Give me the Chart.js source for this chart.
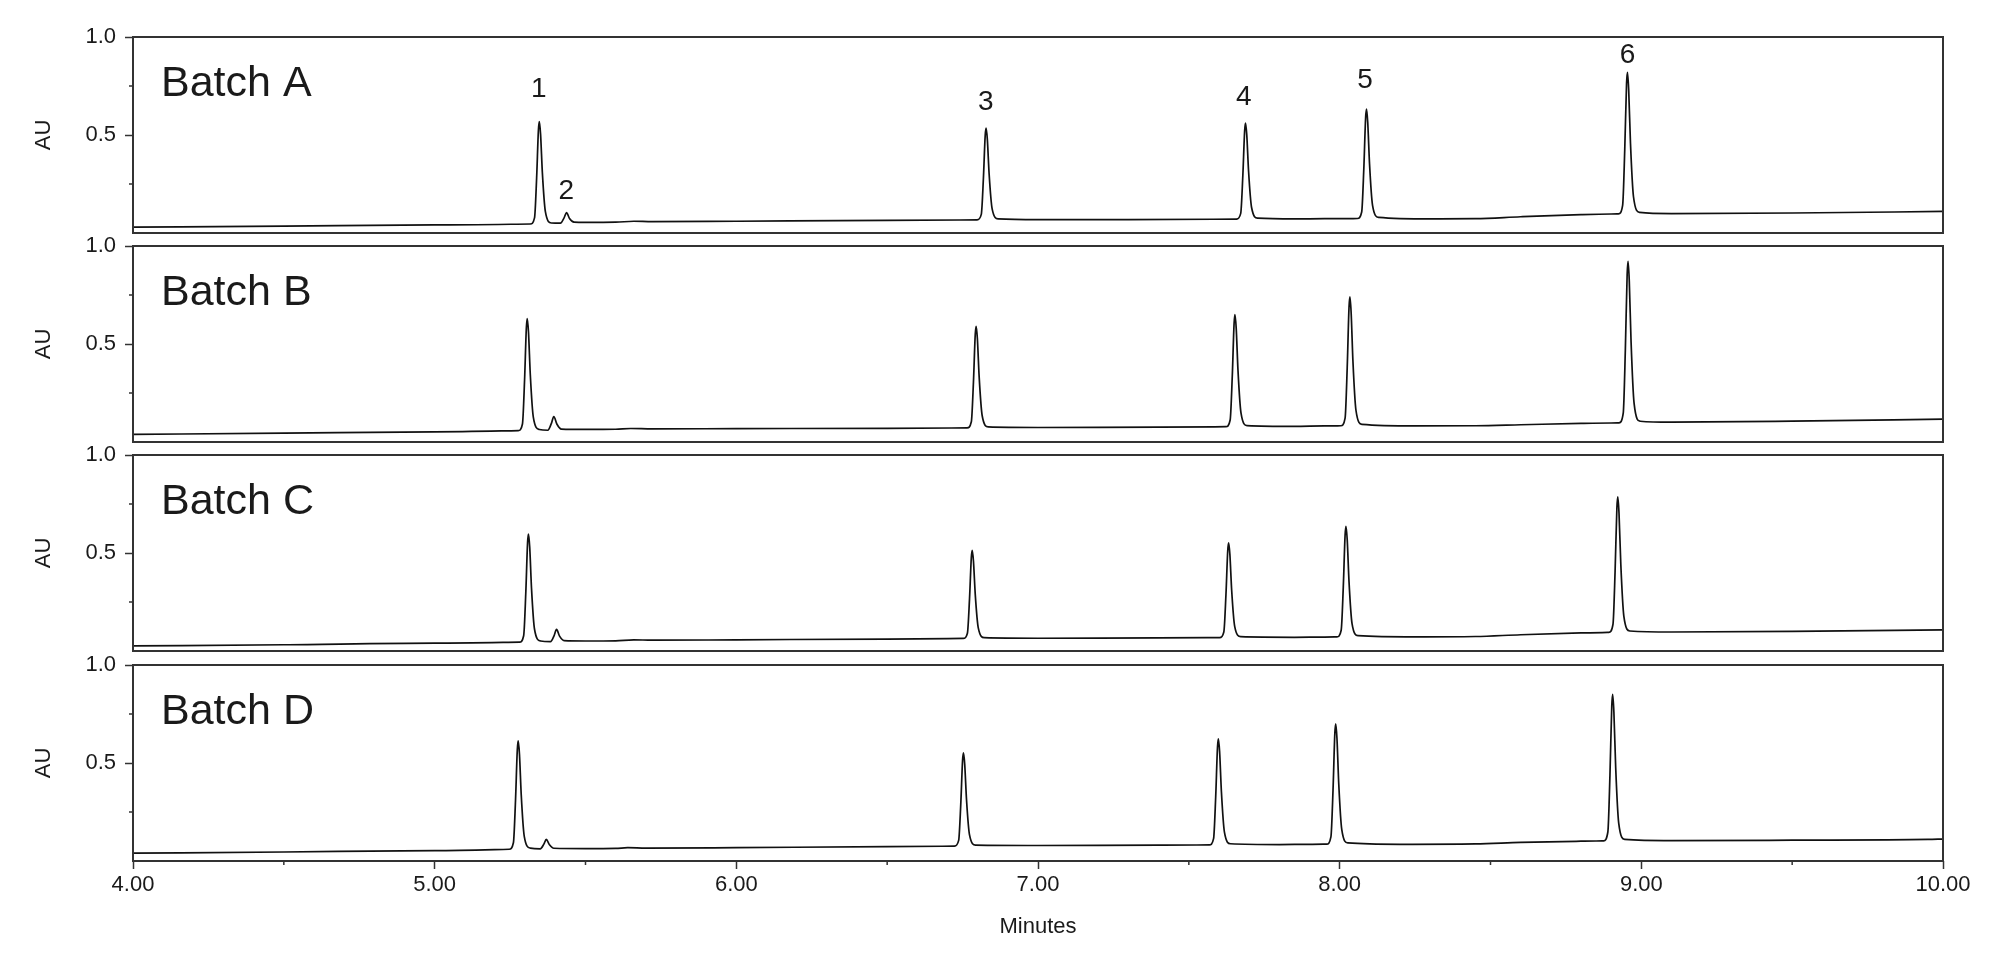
<!DOCTYPE html>
<html>
<head>
<meta charset="utf-8">
<title>Batch chromatograms</title>
<script src="https://cdn.jsdelivr.net/npm/chart.js@4.4.1/dist/chart.umd.min.js"></script>
<style>
  html, body { margin: 0; padding: 0; background: #fff; }
  #wrap { position: relative; width: 2000px; height: 973px; }
  #wrap canvas { position: absolute; left: 0; }
</style>
</head>
<body>
<div id="wrap">
  <canvas id="panelA" width="2000" height="244" style="top:13px"></canvas>
  <canvas id="panelB" width="2000" height="244" style="top:222px"></canvas>
  <canvas id="panelC" width="2000" height="244" style="top:431px"></canvas>
  <canvas id="panelD" width="2000" height="332" style="top:641px"></canvas>
</div>
<script>
// traces: [minutes, AU]
const batchNames = ["Batch A", "Batch B", "Batch C", "Batch D"];

const batchA = [
  [4.00, 0.030], [4.50, 0.035], [5.00, 0.041],
  [5.317, 0.046], [5.331, 0.077], [5.338, 0.281], [5.344, 0.527], [5.347, 0.569],
  [5.351, 0.506], [5.357, 0.308], [5.367, 0.109], [5.387, 0.051],
  [5.417, 0.050], [5.429, 0.077], [5.437, 0.104], [5.447, 0.074], [5.462, 0.055],
  [5.50, 0.054], [5.60, 0.055], [5.66, 0.060], [5.72, 0.058], [6.00, 0.060], [6.50, 0.064],
  [6.798, 0.067], [6.812, 0.095], [6.819, 0.278], [6.825, 0.498], [6.828, 0.535],
  [6.832, 0.479], [6.838, 0.301], [6.848, 0.123], [6.868, 0.072],
  [7.00, 0.068], [7.30, 0.068],
  [7.658, 0.071], [7.672, 0.100], [7.679, 0.292], [7.685, 0.522], [7.688, 0.561],
  [7.692, 0.502], [7.698, 0.316], [7.708, 0.130], [7.728, 0.076],
  [7.85, 0.072], [7.95, 0.073],
  [8.059, 0.074], [8.073, 0.107], [8.080, 0.325], [8.086, 0.587], [8.089, 0.632],
  [8.093, 0.565], [8.099, 0.353], [8.109, 0.141], [8.129, 0.080],
  [8.30, 0.072], [8.45, 0.073], [8.60, 0.083], [8.80, 0.094], [8.90, 0.097],
  [8.924, 0.098], [8.938, 0.141], [8.945, 0.423], [8.951, 0.762], [8.954, 0.820],
  [8.958, 0.733], [8.964, 0.459], [8.974, 0.185], [8.994, 0.105],
  [9.10, 0.099], [9.50, 0.102], [10.00, 0.110]
];

const batchB = [
  [4.00, 0.039], [4.50, 0.045], [5.00, 0.052],
  [5.277, 0.058], [5.291, 0.092], [5.298, 0.315], [5.304, 0.584], [5.307, 0.630],
  [5.311, 0.561], [5.317, 0.344], [5.327, 0.127], [5.347, 0.064],
  [5.375, 0.060], [5.387, 0.095], [5.395, 0.130], [5.405, 0.092], [5.420, 0.066],
  [5.50, 0.064], [5.60, 0.065], [5.65, 0.069], [5.72, 0.067], [6.00, 0.068], [6.50, 0.070],
  [6.765, 0.072], [6.779, 0.103], [6.786, 0.305], [6.792, 0.549], [6.795, 0.590],
  [6.799, 0.528], [6.805, 0.331], [6.815, 0.134], [6.835, 0.077],
  [7.00, 0.074], [7.40, 0.076],
  [7.623, 0.078], [7.637, 0.112], [7.644, 0.335], [7.650, 0.604], [7.653, 0.650],
  [7.657, 0.581], [7.663, 0.364], [7.673, 0.147], [7.693, 0.084],
  [7.85, 0.080], [7.95, 0.082],
  [8.004, 0.083], [8.018, 0.122], [8.025, 0.379], [8.031, 0.687], [8.034, 0.740],
  [8.038, 0.661], [8.044, 0.412], [8.054, 0.162], [8.074, 0.090],
  [8.25, 0.082], [8.45, 0.083], [8.60, 0.088], [8.80, 0.095], [8.90, 0.097],
  [8.926, 0.098], [8.940, 0.147], [8.947, 0.469], [8.953, 0.856], [8.956, 0.922],
  [8.960, 0.823], [8.966, 0.510], [8.976, 0.197], [8.996, 0.106],
  [9.10, 0.101], [9.50, 0.106], [10.00, 0.117]
];

const batchC = [
  [4.00, 0.026], [4.50, 0.032], [5.00, 0.040],
  [5.281, 0.045], [5.295, 0.078], [5.302, 0.293], [5.308, 0.553], [5.311, 0.597],
  [5.315, 0.531], [5.321, 0.321], [5.331, 0.111], [5.351, 0.051],
  [5.384, 0.048], [5.396, 0.079], [5.404, 0.110], [5.414, 0.076], [5.429, 0.053],
  [5.50, 0.051], [5.60, 0.052], [5.66, 0.057], [5.72, 0.055], [6.00, 0.057], [6.50, 0.061],
  [6.752, 0.064], [6.766, 0.091], [6.773, 0.266], [6.779, 0.477], [6.782, 0.513],
  [6.786, 0.459], [6.792, 0.289], [6.802, 0.118], [6.822, 0.068],
  [7.00, 0.065], [7.40, 0.067],
  [7.602, 0.068], [7.616, 0.097], [7.623, 0.286], [7.629, 0.513], [7.632, 0.552],
  [7.636, 0.494], [7.642, 0.310], [7.652, 0.126], [7.672, 0.073],
  [7.85, 0.070], [7.95, 0.071],
  [7.991, 0.072], [8.005, 0.106], [8.012, 0.326], [8.018, 0.591], [8.021, 0.636],
  [8.025, 0.568], [8.031, 0.354], [8.041, 0.140], [8.061, 0.078],
  [8.25, 0.072], [8.45, 0.074], [8.60, 0.083], [8.80, 0.092], [8.87, 0.094],
  [8.892, 0.095], [8.906, 0.136], [8.913, 0.406], [8.919, 0.731], [8.922, 0.786],
  [8.926, 0.703], [8.932, 0.441], [8.942, 0.178], [8.962, 0.102],
  [9.10, 0.097], [9.50, 0.100], [10.00, 0.108]
];

const batchD = [
  [4.00, 0.040], [4.50, 0.046], [5.00, 0.053],
  [5.247, 0.060], [5.261, 0.093], [5.268, 0.309], [5.274, 0.569], [5.277, 0.613],
  [5.281, 0.547], [5.287, 0.337], [5.297, 0.126], [5.317, 0.066],
  [5.350, 0.062], [5.362, 0.086], [5.370, 0.110], [5.380, 0.084], [5.395, 0.065],
  [5.50, 0.063], [5.60, 0.064], [5.64, 0.068], [5.70, 0.066], [6.00, 0.068], [6.50, 0.073],
  [6.723, 0.076], [6.737, 0.105], [6.744, 0.290], [6.750, 0.514], [6.753, 0.552],
  [6.757, 0.495], [6.763, 0.314], [6.773, 0.133], [6.793, 0.081],
  [7.00, 0.079], [7.40, 0.081],
  [7.568, 0.082], [7.582, 0.114], [7.589, 0.325], [7.595, 0.580], [7.598, 0.623],
  [7.602, 0.558], [7.608, 0.353], [7.618, 0.147], [7.638, 0.088],
  [7.80, 0.084], [7.90, 0.085],
  [7.957, 0.086], [7.971, 0.123], [7.978, 0.362], [7.984, 0.651], [7.987, 0.700],
  [7.991, 0.626], [7.997, 0.393], [8.007, 0.160], [8.027, 0.092],
  [8.20, 0.085], [8.45, 0.087], [8.60, 0.095], [8.80, 0.101], [8.85, 0.102],
  [8.875, 0.103], [8.889, 0.148], [8.896, 0.439], [8.902, 0.790], [8.905, 0.850],
  [8.909, 0.760], [8.915, 0.477], [8.925, 0.193], [8.945, 0.110],
  [9.10, 0.104], [9.50, 0.106], [9.95, 0.110], [10.00, 0.112]
];

// peak numbers written above the Batch A trace
const peakNumbers = ["1", "2", "3", "4", "5", "6"];
const peakNumberMinutes = [5.345, 5.436, 6.827, 7.682, 8.084, 8.954];
const peakNumberAU = [0.732, 0.212, 0.665, 0.691, 0.781, 0.908];

const yMajorTicks = [0.5, 1.0];
const yMinorTicks = [0.25, 0.75];

Chart.defaults.font.family = "'Liberation Sans', Arial, sans-serif";
Chart.defaults.color = "#1a1a1a";

const ink = "#1a1a1a";
const frame = "#333";

// frame, short minor ticks, batch name and peak numbers
const panelDecor = {
  id: "panelDecor",
  afterDraw(chart, args, opts) {
    const { ctx, chartArea: a, scales } = chart;
    ctx.save();
    ctx.strokeStyle = frame;
    ctx.lineWidth = 1.5;
    ctx.beginPath();
    yMinorTicks.forEach((v) => {
      const y = scales.y.getPixelForValue(v);
      ctx.moveTo(a.left - 4, y);
      ctx.lineTo(a.left, y);
    });
    if (opts.xAxis) {
      scales.x.ticks.forEach((t) => {
        if (Number.isInteger(t.value)) return;
        const x = scales.x.getPixelForValue(t.value);
        ctx.moveTo(x, a.bottom);
        ctx.lineTo(x, a.bottom + 4);
      });
    }
    ctx.stroke();

    ctx.lineWidth = 2;
    ctx.strokeRect(a.left, a.top, a.right - a.left, a.bottom - a.top);

    ctx.fillStyle = ink;
    ctx.textBaseline = "middle";
    ctx.textAlign = "left";
    ctx.font = "43px 'Liberation Sans', Arial, sans-serif";
    ctx.fillText(opts.name, a.left + 28, a.top + 47);

    if (opts.peaks) {
      ctx.font = "28px 'Liberation Sans', Arial, sans-serif";
      ctx.textAlign = "center";
      peakNumbers.forEach((p, i) => {
        ctx.fillText(
          p,
          scales.x.getPixelForValue(peakNumberMinutes[i]),
          scales.y.getPixelForValue(peakNumberAU[i])
        );
      });
    }
    ctx.restore();
  },
};

function makePanel(id, trace, name, withXAxis, withPeaks) {
  const xScale = withXAxis
    ? {
        type: "linear",
        min: 4,
        max: 10,
        afterFit: (s) => { s.height = 112; },
        border: { display: false },
        grid: {
          drawOnChartArea: false,
          tickLength: 8,
          tickWidth: 1.5,
          tickColor: (c) => (c.tick && Number.isInteger(c.tick.value) ? frame : "transparent"),
        },
        ticks: {
          stepSize: 0.5,
          autoSkip: false,
          maxRotation: 0,
          padding: 3,
          color: ink,
          font: { size: 22 },
          callback: (v) => (Number.isInteger(v) ? v.toFixed(2) : ""),
        },
        title: {
          display: true,
          text: "Minutes",
          color: ink,
          font: { size: 22 },
          padding: { top: 0, bottom: 33 },
        },
      }
    : { type: "linear", min: 4, max: 10, display: false };

  return new Chart(document.getElementById(id), {
    type: "line",
    data: {
      datasets: [
        {
          data: trace.map(([t, v]) => ({ x: t, y: v })),
          borderColor: "#111",
          borderWidth: 1.7,
          pointRadius: 0,
          fill: false,
          cubicInterpolationMode: "monotone",
        },
      ],
    },
    options: {
      responsive: false,
      animation: false,
      events: [],
      layout: { padding: { top: 24, right: 57, bottom: withXAxis ? 0 : 24, left: 0 } },
      scales: {
        x: xScale,
        y: {
          min: 0,
          max: 1,
          afterFit: (s) => { s.width = 133; },
          border: { display: false },
          grid: {
            drawOnChartArea: false,
            tickLength: 8,
            tickWidth: 1.5,
            tickColor: (c) => (c.tick && yMajorTicks.includes(c.tick.value) ? frame : "transparent"),
          },
          ticks: {
            stepSize: 0.25,
            autoSkip: false,
            padding: 9,
            color: ink,
            font: { size: 22 },
            callback: (v) => (yMajorTicks.includes(v) ? v.toFixed(1) : ""),
          },
          title: {
            display: true,
            text: "AU",
            color: ink,
            font: { size: 22 },
            padding: { top: 31, bottom: 0 },
          },
        },
      },
      plugins: {
        legend: { display: false },
        tooltip: { enabled: false },
        panelDecor: { name: name, peaks: withPeaks, xAxis: withXAxis },
      },
    },
    plugins: [panelDecor],
  });
}

makePanel("panelA", batchA, batchNames[0], false, true);
makePanel("panelB", batchB, batchNames[1], false, false);
makePanel("panelC", batchC, batchNames[2], false, false);
makePanel("panelD", batchD, batchNames[3], true, false);
</script>
</body>
</html>
